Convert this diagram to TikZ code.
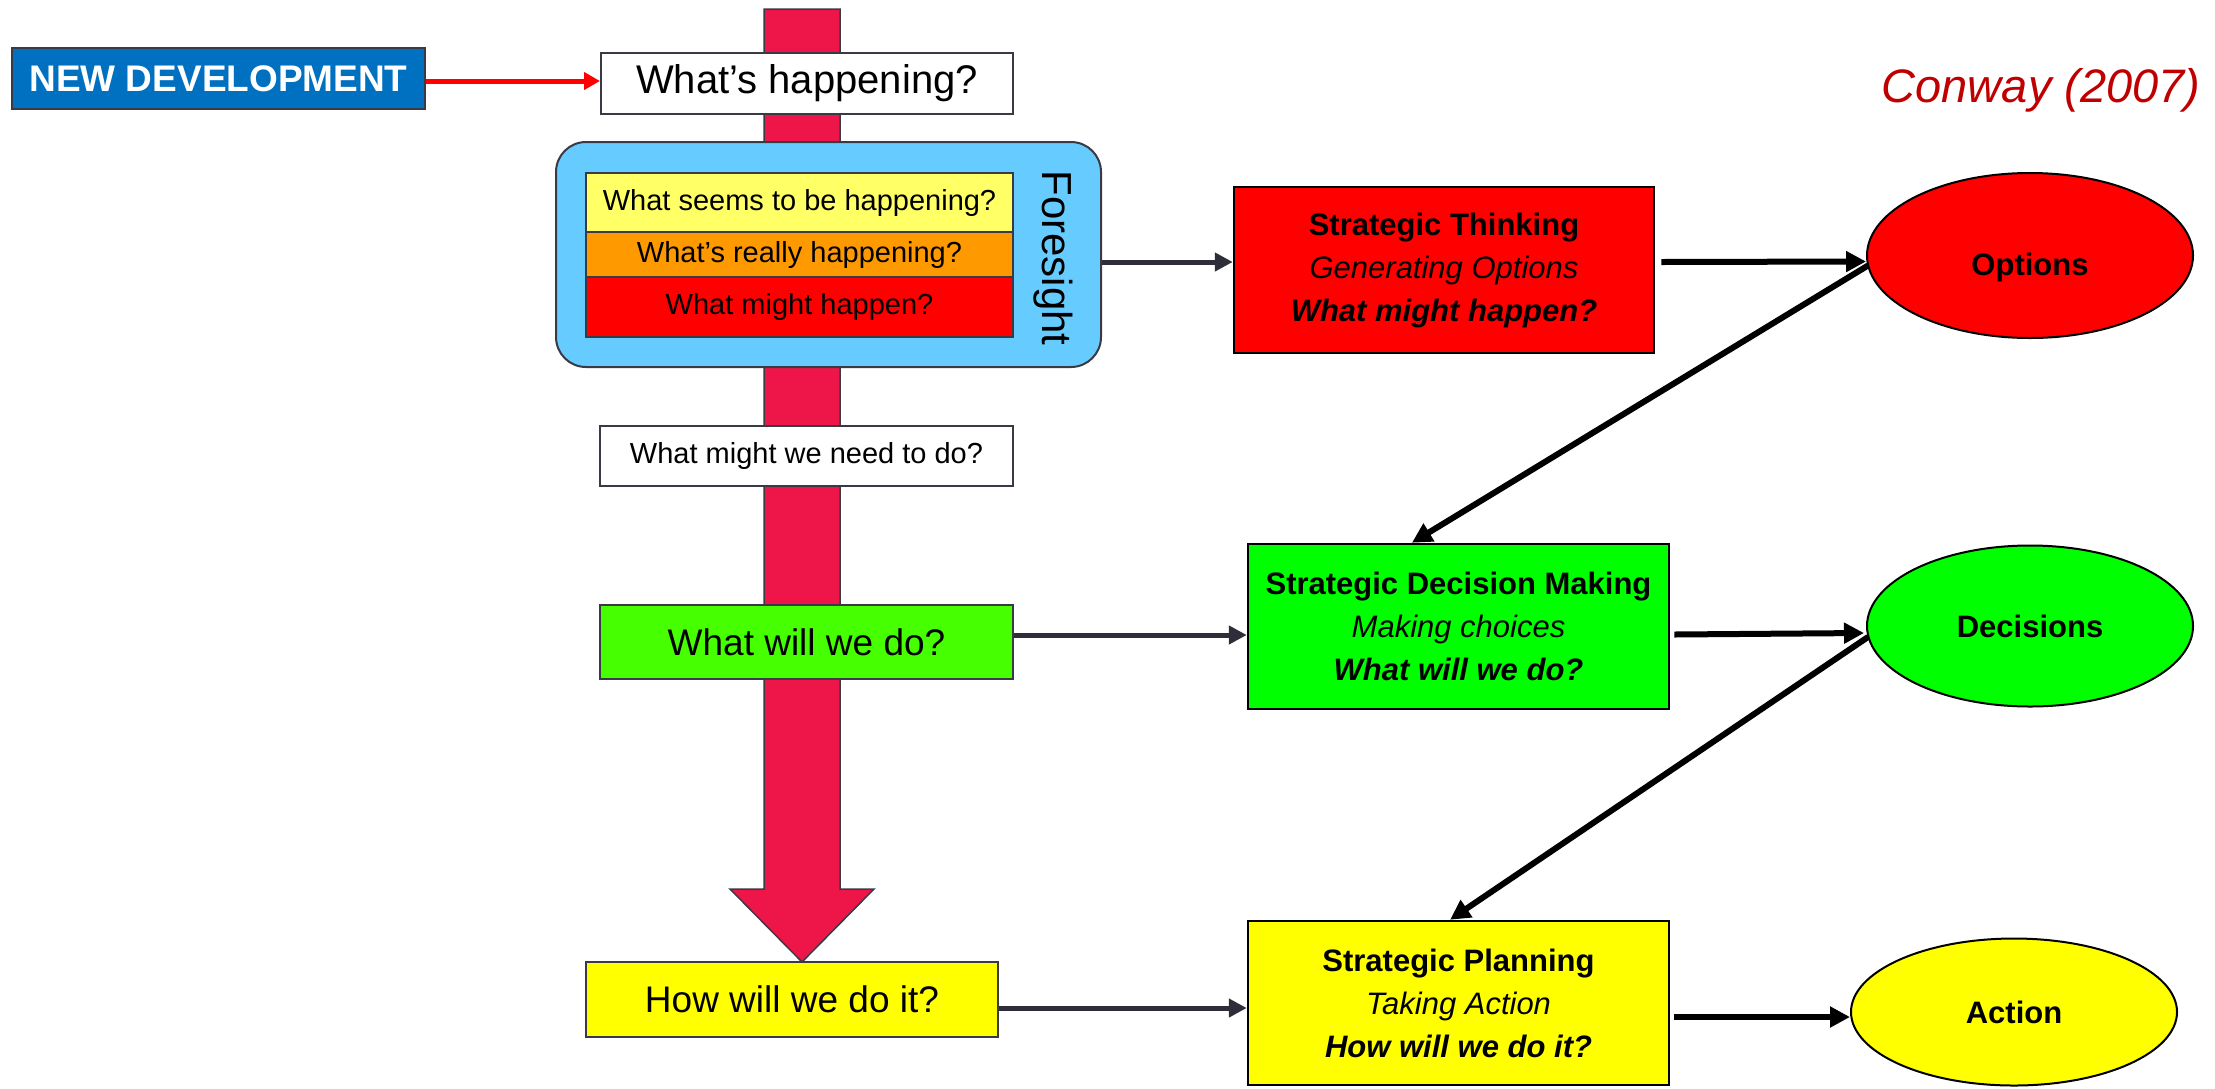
\documentclass[tikz,border=0pt]{standalone}
\usepackage{fontspec}
\setmainfont{Liberation Sans}
\usetikzlibrary{arrows.meta,shapes.geometric,calc}
\definecolor{devblue}{HTML}{0070C0}
\definecolor{boxedge}{HTML}{3A3A45}
\definecolor{barred}{HTML}{EE1548}
\definecolor{skyblue}{HTML}{66CCFF}
\definecolor{paleyellow}{HTML}{FFFF66}
\definecolor{amber}{HTML}{FF9900}
\definecolor{pure red}{HTML}{FF0000}
\definecolor{limegreen}{HTML}{46FF00}
\definecolor{puregreen}{HTML}{00FF00}
\definecolor{pureyellow}{HTML}{FFFF00}
\definecolor{arrowgray}{HTML}{2E2E3A}
\definecolor{citered}{HTML}{C00000}
\begin{document}
\begin{tikzpicture}[x=1pt,y=-1pt,
  qbox/.style={draw=boxedge, line width=2pt, inner sep=0pt, align=center},
  stratbox/.style={draw=black, line width=2.5pt, inner sep=0pt, align=center,
    minimum width=421pt, minimum height=165pt,
    font=\fontsize{31}{43}\selectfont},
  outcome/.style={ellipse, draw=black, line width=2pt, inner sep=0pt,
    minimum width=326pt, font=\bfseries\fontsize{31}{37}\selectfont},
  grayarrow/.style={draw=arrowgray, line width=5pt, -{Triangle[length=18pt,width=18pt]}},
  blackarrow/.style={draw=black, line width=6pt, -{Triangle[length=20pt,width=20pt]}},
  redarrow/.style={draw=pure red, line width=5pt, -{Triangle[length=16pt,width=17pt]}}
]
\useasboundingbox (0,0) rectangle (2215,1088);

% the main downward arrow running behind the question boxes
\draw[fill=barred, draw=boxedge, line width=1.5pt]
  (764,9) -- (840,9) -- (840,889) -- (874,889) -- (802,962) -- (730,889) -- (764,889) -- cycle;

% left column
\node[qbox, fill=devblue, minimum width=413pt, minimum height=61pt,
  text=white, font=\bfseries\fontsize{37}{44}\selectfont] (newdev) at (218.5,78.5) {NEW DEVELOPMENT};
\node[qbox, fill=white, minimum width=412pt, minimum height=61pt,
  font=\fontsize{40}{48}\selectfont] (happening) at (807,83) {What’s happening?};

\node[draw=boxedge, line width=2pt, rounded corners=30pt, fill=skyblue,
  minimum width=545pt, minimum height=225pt, inner sep=0pt] (fore) at (828.5,254.5) {};
\node[rotate=-90, font=\fontsize{42}{50}\selectfont] (foretext) at (1053,258) {Foresight};
\node[qbox, fill=paleyellow, minimum width=427pt, minimum height=59pt,
  font=\fontsize{29}{35}\selectfont] (seems) at (799.5,202.5) {What seems to be happening?};
\node[qbox, fill=amber, minimum width=427pt, minimum height=45pt,
  font=\fontsize{29}{35}\selectfont] (really) at (799.5,254.5) {What’s really happening?};
\node[qbox, fill=pure red, minimum width=427pt, minimum height=60pt,
  font=\fontsize{29}{35}\selectfont] (might) at (799.5,307) {What might happen?};

\node[qbox, fill=white, minimum width=413pt, minimum height=60pt,
  font=\fontsize{29}{35}\selectfont] (needdo) at (806.5,456) {What might we need to do?};
\node[qbox, fill=limegreen, minimum width=413pt, minimum height=74pt,
  font=\fontsize{37}{44}\selectfont] (willdo) at (806.5,642) {What will we do?};
\node[qbox, fill=pureyellow, minimum width=412pt, minimum height=75pt,
  font=\fontsize{37}{44}\selectfont] (howdo) at (792,999.5) {How will we do it?};

% middle column
\node[stratbox, fill=pure red, minimum width=420pt, minimum height=166pt] (thinking) at (1444,270)
  {\textbf{Strategic Thinking}\\ \textit{Generating Options}\\ \textbf{\textit{What might happen?}}};
\node[stratbox, fill=puregreen] (decision) at (1458.5,626.5)
  {\textbf{Strategic Decision Making}\\ \textit{Making choices}\\ \textbf{\textit{What will we do?}}};
\node[stratbox, fill=pureyellow, minimum height=164pt] (planning) at (1458.5,1003)
  {\textbf{Strategic Planning}\\ \textit{Taking Action}\\ \textbf{\textit{How will we do it?}}};

% right column
\node[outcome, fill=pure red, minimum height=165pt] (options) at (2030,255.5) {};
\node[font=\bfseries\fontsize{31}{37}\selectfont] (optionslabel) at (2030,267) {Options};
\node[outcome, fill=puregreen, minimum height=161pt] (decisions) at (2030,626) {Decisions};
\node[outcome, fill=pureyellow, minimum height=147pt] (action) at (2014,1012) {Action};

\node[anchor=east, text=citered, font=\itshape\fontsize{47}{55}\selectfont] (conway) at (2204,90) {Conway (2007)};

% connectors
\draw[redarrow] ($(newdev.east)+(0,2.5)$) -- ($(happening.west)+(0,-2)$);
\draw[grayarrow] ($(fore.east)+(0,7.5)$) -- ($(thinking.west)+(0,-8)$);
\draw[grayarrow] ($(willdo.east)+(0,-7)$) -- ($(decision.west)+(0,8.5)$);
\draw[grayarrow] ($(howdo.east)+(0,8.5)$) -- ($(planning.west)+(0,5)$);

\draw[blackarrow] ($(thinking.east)+(6,-8)$) -- ($(options.west)+(0,6)$);
\draw[blackarrow] ($(options.west)+(2,10)$) -- ($(decision.north west)!0.39!(decision.north east)$);
\draw[blackarrow] ($(decision.east)+(4,8)$) -- ($(decisions.west)+(-2,7)$);
\draw[blackarrow] ($(decisions.west)+(2,11)$) -- ($(planning.north west)!0.48!(planning.north east)$);
\draw[blackarrow] ($(planning.east)+(4,14)$) -- ($(action.west)+(0,5)$);
\end{tikzpicture}
\end{document}
